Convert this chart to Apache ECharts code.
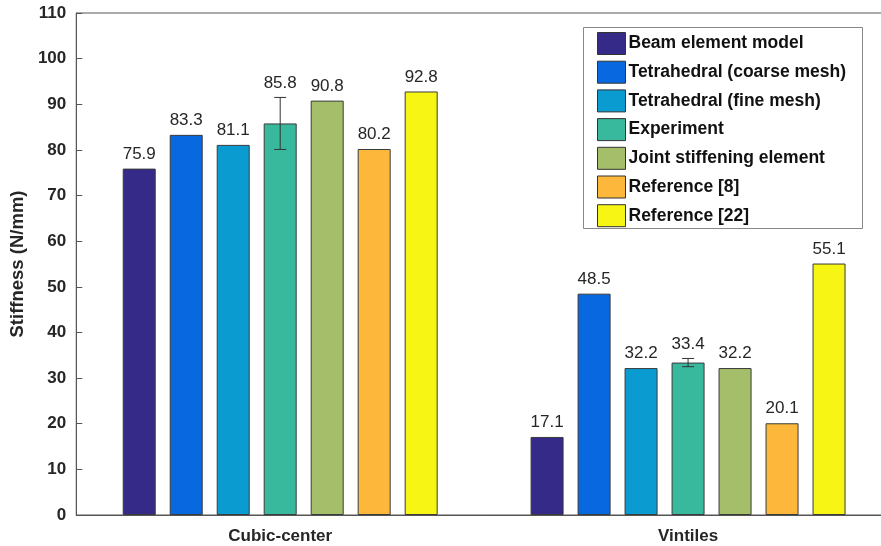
<!DOCTYPE html>
<html>
<head>
<meta charset="utf-8">
<script src="https://cdn.jsdelivr.net/npm/echarts@6/dist/echarts.min.js"></script>
<style>
  html, body { margin: 0; padding: 0; background: #fff; overflow: hidden; }
  #chart { width: 892px; height: 546px; }
</style>
</head>
<body>
<div id="chart"></div>
<script>
// Stiffness of two lattice structures, by modelling method
const categories = ['Cubic-center', 'Vintiles'];
const seriesNames = [
  'Beam element model',
  'Tetrahedral (coarse mesh)',
  'Tetrahedral (fine mesh)',
  'Experiment',
  'Joint stiffening element',
  'Reference [8]',
  'Reference [22]'
];
const beamModel = [75.9, 17.1];
const tetraCoarse = [83.3, 48.5];
const tetraFine = [81.1, 32.2];
const experiment = [85.8, 33.4];
const jointStiffening = [90.8, 32.2];
const reference8 = [80.2, 20.1];
const reference22 = [92.8, 55.1];
// measured range for the experiment bars (low, high)
const experimentLow = [80.1, 32.5];
const experimentHigh = [91.5, 34.3];
const yTicks = [0, 10, 20, 30, 40, 50, 60, 70, 80, 90, 100, 110];

const seriesValues = [beamModel, tetraCoarse, tetraFine, experiment, jointStiffening, reference8, reference22];
const colors = ['#352a87', '#0868e0', '#0a9bd0', '#38b99e', '#a4be6a', '#fdb83c', '#f6f514'];

const FONT = '"Liberation Sans", Arial, Helvetica, sans-serif';
const TEXT = '#262626';
const AXIS = '#555555';

const chart = echarts.init(document.getElementById('chart'), null, { renderer: 'canvas' });

const barSeries = seriesValues.map((vals, i) => ({
  name: seriesNames[i],
  type: 'bar',
  data: vals,
  barWidth: 33,
  barGap: '42.4%',
  itemStyle: { color: colors[i], borderColor: '#3a3a3a', borderWidth: 1 },
  label: {
    show: i !== 3,
    position: 'top',
    distance: 6,
    fontFamily: FONT,
    fontSize: 17,
    color: TEXT,
    formatter: p => p.value.toFixed(1)
  },
  emphasis: { disabled: true },
  z: 2
}));

// Error bars for the experiment, with the value written above the upper cap
const errorSeries = {
  type: 'custom',
  name: 'experiment-range',
  data: categories.map((c, i) => [i, experimentLow[i], experimentHigh[i], experiment[i]]),
  encode: { x: 0, y: [1, 2] },
  renderItem: (params, api) => {
    const x = api.coord([api.value(0), 0])[0];
    const lo = api.coord([api.value(0), api.value(1)])[1];
    const hi = api.coord([api.value(0), api.value(2)])[1];
    const cap = 6;
    const style = { stroke: '#333333', lineWidth: 1 };
    return {
      type: 'group',
      children: [
        { type: 'line', shape: { x1: x, y1: lo, x2: x, y2: hi }, style },
        { type: 'line', shape: { x1: x - cap, y1: lo, x2: x + cap, y2: lo }, style },
        { type: 'line', shape: { x1: x - cap, y1: hi, x2: x + cap, y2: hi }, style },
        {
          type: 'text',
          style: {
            text: api.value(3).toFixed(1),
            x: x, y: hi - 6,
            textAlign: 'center', textVerticalAlign: 'bottom',
            font: '17px ' + FONT, fill: TEXT
          }
        }
      ]
    };
  },
  z: 5,
  silent: true
};

chart.setOption({
  animation: false,
  backgroundColor: '#ffffff',
  grid: {
    left: 76, top: 13, width: 816, height: 502,
    show: true, borderColor: AXIS, borderWidth: 1, backgroundColor: 'transparent'
  },
  legend: {
    data: seriesNames,
    orient: 'vertical',
    left: 597, top: 32,
    itemWidth: 28, itemHeight: 22, itemGap: 5.7,
    padding: 0,
    icon: 'rect',
    itemStyle: { borderColor: '#333333', borderWidth: 1 },
    textStyle: { fontFamily: FONT, fontSize: 17.5, fontWeight: 'bold', color: '#111111', padding: [0, 0, 0, -2], lineHeight: 22 },
    selectedMode: false
  },
  graphic: [{
    type: 'rect',
    shape: { x: 583.5, y: 27.5, width: 279, height: 201 },
    style: { fill: '#ffffff', stroke: '#888888', lineWidth: 1 },
    z: 0, zlevel: 0
  }],
  xAxis: {
    type: 'category',
    data: categories,
    axisLine: { lineStyle: { color: AXIS, width: 1 } },
    axisTick: { show: true, inside: true, alignWithLabel: true, length: 5, lineStyle: { color: AXIS } },
    axisLabel: { fontFamily: FONT, fontSize: 17, fontWeight: 'bold', color: TEXT, margin: 13 },
    splitLine: { show: false }
  },
  yAxis: {
    type: 'value',
    min: yTicks[0], max: yTicks[yTicks.length - 1], interval: 10,
    name: 'Stiffness (N/mm)',
    nameLocation: 'middle',
    nameGap: 46,
    nameTextStyle: { fontFamily: FONT, fontSize: 18.5, fontWeight: 'bold', color: TEXT },
    axisLine: { show: true, lineStyle: { color: AXIS, width: 1 } },
    axisTick: { show: true, inside: true, length: 6, lineStyle: { color: AXIS } },
    axisLabel: { fontFamily: FONT, fontSize: 17, fontWeight: 'bold', color: TEXT, margin: 10 },
    splitLine: { show: false }
  },
  series: [...barSeries, errorSeries]
});
</script>
</body>
</html>
